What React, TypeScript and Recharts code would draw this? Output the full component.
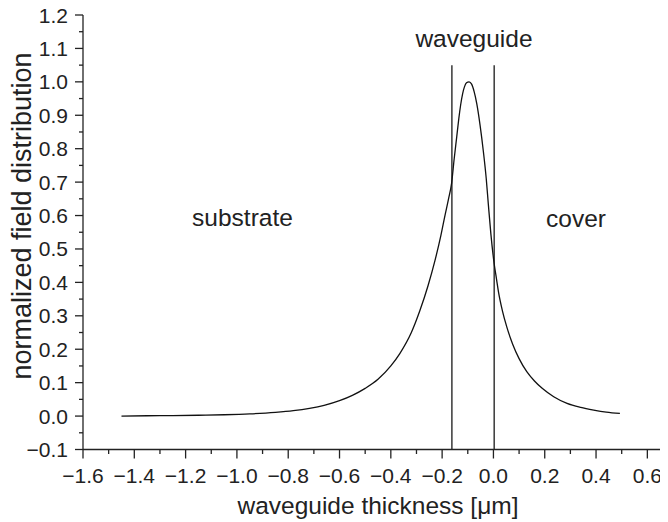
import { ComposedChart, Line, XAxis, YAxis, ReferenceLine, Label } from "recharts";

// thickness positions [µm] and normalized field
const thickness = [
  -1.45, -1.35, -1.25, -1.15, -1.05, -0.95, -0.85, -0.78, -0.717, -0.66, -0.6, -0.55,
  -0.5, -0.45, -0.4, -0.365, -0.32, -0.287, -0.255, -0.228, -0.205, -0.189, -0.175,
  -0.163, -0.153, -0.143, -0.135, -0.128, -0.12, -0.113, -0.105, -0.095, -0.085,
  -0.075, -0.065, -0.052, -0.039, -0.028, -0.02, -0.01, 0.003, 0.012, 0.02, 0.035,
  0.052, 0.075, 0.1, 0.13, 0.16, 0.19, 0.235, 0.287, 0.34, 0.391, 0.44, 0.493,
];
const field = [
  0.0, 0.001, 0.0015, 0.0025, 0.004, 0.0065, 0.011, 0.016, 0.023, 0.032, 0.046, 0.062,
  0.083, 0.11, 0.15, 0.187, 0.25, 0.315, 0.39, 0.465, 0.54, 0.6, 0.65,
  0.697, 0.77, 0.836, 0.89, 0.93, 0.965, 0.985, 0.997, 1.0, 0.993,
  0.97, 0.935, 0.87, 0.79, 0.71, 0.635, 0.545, 0.455, 0.41, 0.37, 0.315,
  0.267, 0.215, 0.172, 0.133, 0.105, 0.083, 0.058, 0.038, 0.026, 0.018, 0.012, 0.008,
];

// waveguide boundaries and how high the marker lines go
const boundaries = [-0.162, 0.003];
const boundaryTop = 1.05;

const xTicks = [
  -1.6, -1.5, -1.4, -1.3, -1.2, -1.1, -1.0, -0.9, -0.8, -0.7, -0.6, -0.5, -0.4,
  -0.3, -0.2, -0.1, 0.0, 0.1, 0.2, 0.3, 0.4, 0.5, 0.6,
];
const yTicks = [
  -0.1, -0.05, 0.0, 0.05, 0.1, 0.15, 0.2, 0.25, 0.3, 0.35, 0.4, 0.45, 0.5, 0.55,
  0.6, 0.65, 0.7, 0.75, 0.8, 0.85, 0.9, 0.95, 1.0, 1.05, 1.1, 1.15, 1.2,
];

const data = thickness.map((x, i) => ({ x, v: field[i] }));

const INK = "#222";
const FONT = "'Liberation Sans', Arial, sans-serif";

const fmt = (v: number) => v.toFixed(1).replace("-", "\u2212");

function XTick(props: any) {
  const { x, y, payload } = props;
  const major = Math.abs(Math.round(payload.value * 10)) % 2 === 0;
  return (
    <g>
      <line x1={x} y1={y} x2={x} y2={y + (major ? 9 : 4.5)} stroke={INK} strokeWidth={1.3} />
      {major && (
        <text x={x} y={y + 33} textAnchor="middle" fontSize={21} fontFamily={FONT} fill={INK}>
          {fmt(payload.value)}
        </text>
      )}
    </g>
  );
}

function YTick(props: any) {
  const { x, y, payload } = props;
  const major = Math.abs(Math.round(payload.value * 100)) % 10 === 0;
  return (
    <g>
      <line x1={x} y1={y} x2={x - (major ? 8 : 4)} y2={y} stroke={INK} strokeWidth={1.3} />
      {major && (
        <text x={x - 15} y={y + 7.5} textAnchor="end" fontSize={21} fontFamily={FONT} fill={INK}>
          {fmt(payload.value)}
        </text>
      )}
    </g>
  );
}

export default function App() {
  return (
    <div style={{ margin: "-8px 0 0 -8px", width: 688, height: 522 }}>
      <ComposedChart
        width={688}
        height={522}
        data={data}
        margin={{ top: 15, right: 15, left: 0, bottom: 0 }}
        style={{ fontFamily: FONT }}
      >
        <XAxis
          type="number"
          dataKey="x"
          domain={[-1.6, 0.7]}
          ticks={xTicks}
          interval={0}
          tickSize={0}
          tickMargin={0}
          tickLine={false}
          tick={<XTick />}
          axisLine={{ stroke: INK, strokeWidth: 1.3 }}
          height={72.5}
        >
          <Label
            content={() => (
              <text x={378} y={514} textAnchor="middle" fontSize={24.5} fontFamily={FONT} fill={INK}>
                waveguide thickness [μm]
              </text>
            )}
          />
        </XAxis>
        <YAxis
          type="number"
          domain={[-0.1, 1.2]}
          ticks={yTicks}
          interval={0}
          tickSize={0}
          tickMargin={0}
          tickLine={false}
          tick={<YTick />}
          axisLine={{ stroke: INK, strokeWidth: 1.3 }}
          width={83}
        >
          <Label
            content={() => (
              <text
                transform="translate(31 216) rotate(-90)"
                textAnchor="middle"
                fontSize={27}
                fontFamily={FONT}
                fill={INK}
              >
                normalized field distribution
              </text>
            )}
          />
        </YAxis>
        {boundaries.map((b) => (
          <ReferenceLine
            key={b}
            segment={[
              { x: b, y: -0.1 },
              { x: b, y: boundaryTop },
            ]}
            stroke="#444"
            strokeWidth={1.6}
          />
        ))}
        <Line
          type="monotone"
          dataKey="v"
          stroke="#111"
          strokeWidth={1.3}
          dot={false}
          activeDot={false}
          isAnimationActive={false}
        />
        <text x={474} y={47} textAnchor="middle" fontSize={24.5} fontFamily={FONT} fill={INK}>
          waveguide
        </text>
        <text x={242.5} y={226} textAnchor="middle" fontSize={24.5} fontFamily={FONT} fill={INK}>
          substrate
        </text>
        <text x={576} y={226.5} textAnchor="middle" fontSize={24.5} fontFamily={FONT} fill={INK}>
          cover
        </text>
      </ComposedChart>
    </div>
  );
}
